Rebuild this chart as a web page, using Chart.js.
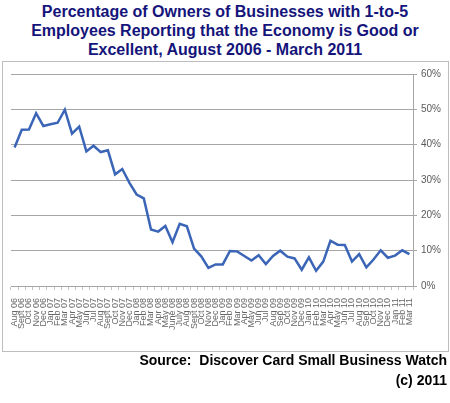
<!DOCTYPE html>
<html>

<head>
    <title>Owners reporting a good economy</title>
    <script src="https://cdn.jsdelivr.net/npm/chart.js"></script>
    <style>
        body { margin: 0; background: #fff; width: 450px; height: 403px; overflow: hidden; position: relative; }
        #title {
            position: absolute; left: 0; top: 2px; width: 450px;
            text-align: center; font: bold 16px "Liberation Sans", Arial, sans-serif;
            line-height: 19px; color: #14147a;
        }
        #box {
            position: absolute; left: 2px; top: 61px; width: 445px; height: 289px;
            border: 1px solid #bdbdbd;
        }
        #source {
            position: absolute; right: 3px; top: 350px; text-align: right;
            font: bold 14px "Liberation Sans", Arial, sans-serif; line-height: 20px; color: #000;
        }
    </style>
</head>

<body>
    <div id="title">Percentage of Owners of Businesses with 1-to-5<br>Employees Reporting that the Economy is Good or<br>Excellent, August 2006 - March 2011</div>

    <div id="box">
        <canvas id="myChart" width="445" height="289"></canvas>
    </div>

    <div id="source">Source:&nbsp; Discover Card Small Business Watch<br>(c) 2011</div>

    <script>
        // month labels, Aug 06 - Mar 11
        var months = ['Aug 06', 'Sept 06', 'Oct 06', 'Nov 06', 'Dec 06',
            'Jan 07', 'Feb 07', 'Mar 07', 'Apr 07', 'May 07', 'Jun 07', 'Jul 07', 'Aug 07', 'Sept 07', 'Oct 07', 'Nov 07', 'Dec 07',
            'Jan 08', 'Feb 08', 'Mar 08', 'Apr 08', 'May 08', 'June 08', 'July 08', 'Aug 08', 'Sept 08', 'Oct 08', 'Nov 08', 'Dec 08',
            'Jan 09', 'Feb 09', 'Mar 09', 'Apr 09', 'May 09', 'Jun 09', 'Jul 09', 'Aug 09', 'Sep 09', 'Oct 09', 'Nov 09', 'Dec 09',
            'Jan 10', 'Feb 10', 'Mar 10', 'Apr 10', 'May 10', 'Jun 10', 'Jul 10', 'Aug 10', 'Sep 10', 'Oct 10', 'Nov 10', 'Dec 10',
            'Jan 11', 'Feb 11', 'Mar 11'];

        // percent reporting good or excellent
        var goodPct = [39.2, 44.2, 44.3, 48.9, 45.3,
            45.8, 46.2, 49.9, 43.1, 45.1, 38.1, 39.7, 37.9, 38.4, 31.6, 33.1, 29.2,
            25.9, 24.8, 16.0, 15.4, 17.0, 12.4, 17.6, 16.9, 10.6, 8.4, 5.1, 6.1,
            6.1, 9.9, 9.8, 8.5, 7.2, 8.7, 6.2, 8.5, 10.0, 8.3, 7.8, 4.6,
            8.1, 4.3, 6.9, 12.8, 11.7, 11.6, 6.9, 9.0, 5.3, 7.5, 10.1, 8.0,
            8.6, 10.1, 9.0];

        var yTicks = [0, 10, 20, 30, 40, 50, 60];

        var ctx = document.getElementById('myChart').getContext('2d');
        var myChart = new Chart(ctx, {
            type: 'line',
            data: {
                labels: months,
                datasets: [{
                    data: goodPct,
                    borderColor: '#3b65b6',
                    borderWidth: 2.5,
                    pointRadius: 0,
                    tension: 0,
                    fill: false
                }]
            },
            options: {
                responsive: false,
                animation: false,
                layout: { padding: { left: 8, top: 12, right: 0, bottom: 0 } },
                plugins: { legend: { display: false }, tooltip: { enabled: false } },
                scales: {
                    x: {
                        offset: true,
                        grid: { drawOnChartArea: false, offset: true, tickLength: 4, color: '#c4c4c4' },
                        border: { color: '#a6a6a6' },
                        ticks: {
                            autoSkip: false, maxRotation: 90, minRotation: 90, padding: 8,
                            color: '#666666', font: { family: 'Liberation Sans', size: 9 }
                        },
                        afterFit: function (axis) { axis.height = 65; }
                    },
                    y: {
                        position: 'right',
                        min: 0,
                        max: 60,
                        afterBuildTicks: function (axis) {
                            axis.ticks = yTicks.map(function (v) { return { value: v }; });
                        },
                        grid: { color: '#a6a6a6', tickLength: 4 },
                        border: { color: '#a6a6a6' },
                        ticks: {
                            padding: 4, color: '#595959',
                            font: { family: 'Liberation Sans', size: 10 },
                            callback: function (v) { return v + '%'; }
                        },
                        afterFit: function (axis) { axis.width = 35; }
                    }
                }
            }
        });
    </script>
</body>

</html>
